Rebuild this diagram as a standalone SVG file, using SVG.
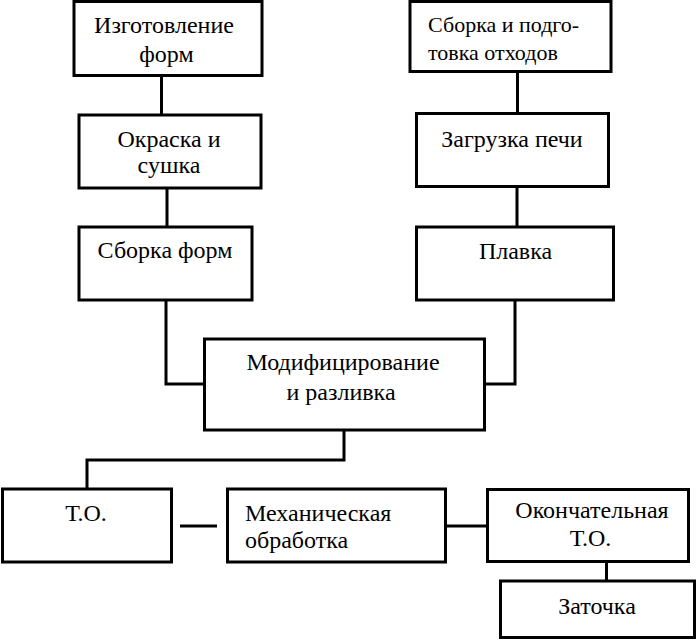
<svg xmlns="http://www.w3.org/2000/svg" width="697" height="640" viewBox="0 0 697 640">
<defs>
<style>
.b{fill:#fff;stroke:#000;stroke-width:3}
.c path{fill:none;stroke:#000;stroke-width:3}
</style>
</defs>
<rect x="0" y="0" width="697" height="640" fill="#fff"/>
<g class="c">
<path d="M161.5 75V115"/>
<path d="M167 188V227"/>
<path d="M517.5 71V114"/>
<path d="M517 186V227"/>
<path d="M166 300V384H205"/>
<path d="M515 300V384H484"/>
<path d="M344 430V460H87V489"/>
<path d="M180 526H217"/>
<path d="M442 526H488"/>
<path d="M606.5 561V581"/>
</g>
<g id="n1"><rect class="b" x="74" y="1.5" width="188" height="74"/><text font-family="Liberation Serif" font-size="24" text-anchor="middle" x="164" y="33">Изготовление</text><text font-family="Liberation Serif" font-size="24" text-anchor="middle" x="166.5" y="62">форм</text></g>
<g id="n2"><rect class="b" x="79" y="115" width="182" height="73"/><text font-family="Liberation Serif" font-size="24" text-anchor="middle" x="169" y="147">Окраска и</text><text font-family="Liberation Serif" font-size="24" text-anchor="middle" x="169" y="173">сушка</text></g>
<g id="n3"><rect class="b" x="79" y="227" width="173" height="73"/><text font-family="Liberation Serif" font-size="24" text-anchor="middle" x="165" y="258">Сборка форм</text></g>
<g id="n4"><rect class="b" x="410" y="1.5" width="201" height="70"/><text font-family="Liberation Serif" font-size="22" x="428" y="32">Сборка и подго-</text><text font-family="Liberation Serif" font-size="22" x="428" y="60">товка отходов</text></g>
<g id="n5"><rect class="b" x="416.5" y="113.5" width="192" height="73"/><text font-family="Liberation Serif" font-size="24" text-anchor="middle" x="512" y="147">Загрузка печи</text></g>
<g id="n6"><rect class="b" x="416.5" y="227" width="197" height="73"/><text font-family="Liberation Serif" font-size="24" text-anchor="middle" x="515.5" y="259">Плавка</text></g>
<g id="n7"><rect class="b" x="204.5" y="339" width="280" height="91"/><text font-family="Liberation Serif" font-size="24" text-anchor="middle" x="343" y="370">Модифицирование</text><text font-family="Liberation Serif" font-size="24" text-anchor="middle" x="341" y="400">и разливка</text></g>
<g id="n8"><rect class="b" x="2.5" y="489" width="169" height="73"/><text font-family="Liberation Serif" font-size="24" text-anchor="middle" x="86" y="521">Т.О.</text></g>
<g id="n9"><rect class="b" x="227.5" y="489" width="218" height="73"/><text font-family="Liberation Serif" font-size="24" x="245" y="521">Механическая</text><text font-family="Liberation Serif" font-size="24" x="245" y="548">обработка</text></g>
<g id="n10"><rect class="b" x="487.5" y="489.5" width="201" height="72"/><text font-family="Liberation Serif" font-size="24" text-anchor="middle" x="592" y="518">Окончательная</text><text font-family="Liberation Serif" font-size="24" text-anchor="middle" x="590.5" y="546">Т.О.</text></g>
<g id="n11"><rect class="b" x="500.5" y="581" width="194" height="56.5"/><text font-family="Liberation Serif" font-size="24" text-anchor="middle" x="597" y="614">Заточка</text></g>
</svg>
